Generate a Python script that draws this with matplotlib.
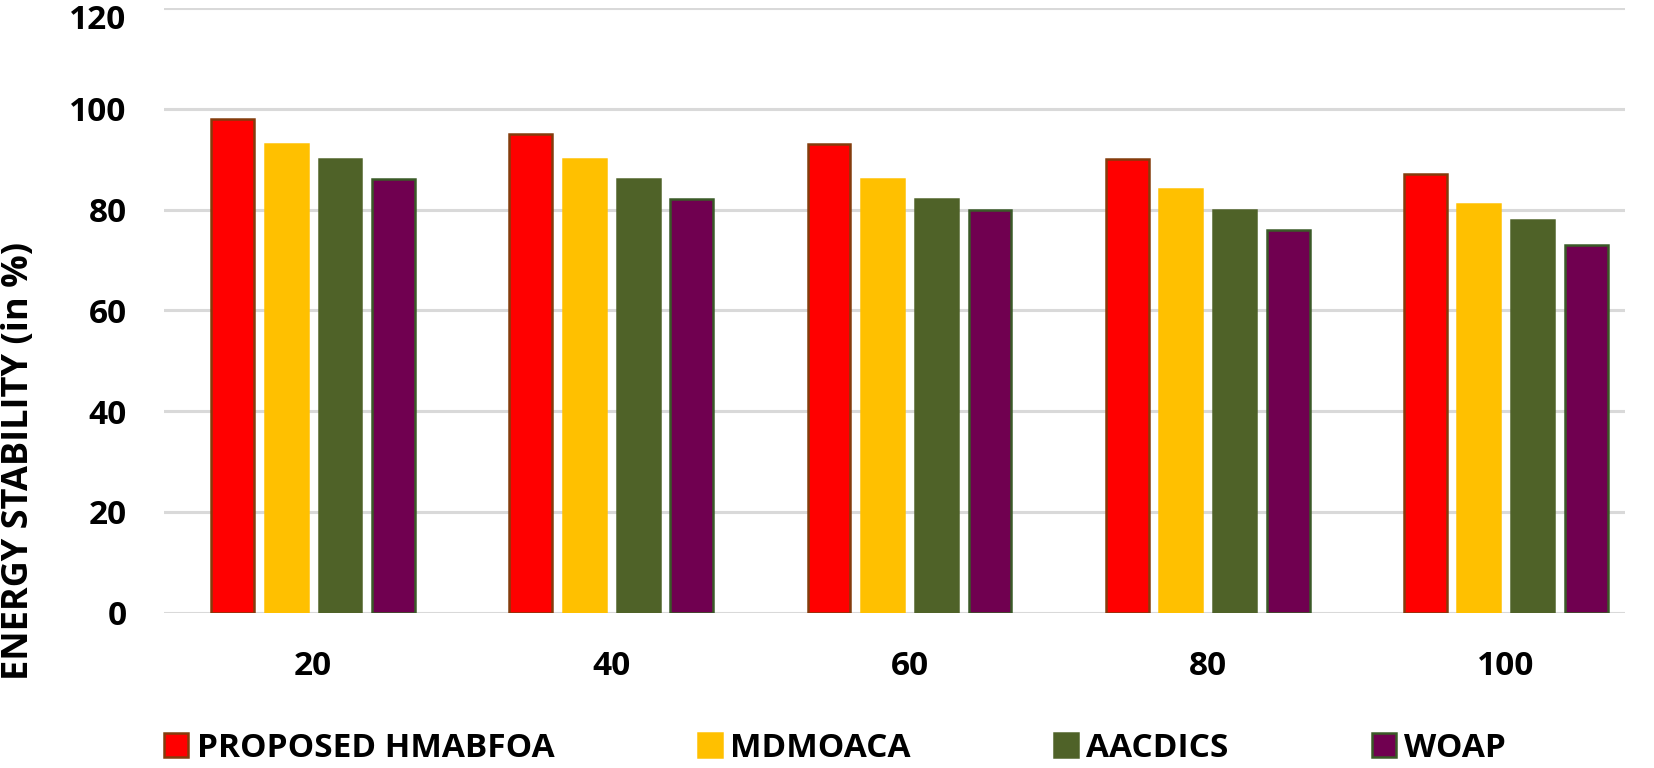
import matplotlib
matplotlib.use("Agg")
import matplotlib.pyplot as plt
import matplotlib.transforms as mtransforms
import numpy as np

plt.rcParams['font.family'] = ['Open Sans', 'DejaVu Sans']

# data
nodes = ['20', '40', '60', '80', '100']
series = ['PROPOSED HMABFOA', 'MDMOACA', 'AACDICS', 'WOAP']
hmabfoa = [98, 95, 93, 90, 87]
mdmoaca = [93, 90, 86, 84, 81]
aacdics = [90, 86, 82, 80, 78]
woap = [86, 82, 80, 76, 73]

colors = ['#FF0000', '#FFC000', '#4F6228', '#700050']
edges = ['#843C0C', '#FFC000', '#4F6228', '#3A5A28']

fig = plt.figure(figsize=(16.54, 7.68), dpi=100)
ax = fig.add_axes([0.0992, 0.2022, 0.8833, 0.7875])

x = np.arange(len(nodes))
pitch = 0.18
width = 0.144
bars = []
for i, vals in enumerate([hmabfoa, mdmoaca, aacdics, woap]):
    b = ax.bar(x + (i - 1.5) * pitch, vals, width, color=colors[i],
               edgecolor=edges[i], linewidth=1.8, label=series[i], zorder=3)
    bars.append(b)

ax.set_ylim(0, 120)
ax.set_yticks(range(0, 121, 20))
ax.set_xlim(-0.5, 4.4)
ax.set_xticks(x)
ax.set_xticklabels(nodes)
ax.grid(axis='y', color='#D9D9D9', linewidth=2.2, zorder=0)
ax.set_axisbelow(True)
for s in ax.spines.values():
    s.set_visible(False)
ax.tick_params(axis='both', length=0, labelsize=24)
ax.tick_params(axis='x', pad=27)
ax.tick_params(axis='y', pad=27)
for lab in ax.get_xticklabels() + ax.get_yticklabels():
    lab.set_fontweight('bold')

# top label sits a bit lower so it is not cut at the edge
top = ax.get_yticklabels()[-1]
top.set_transform(top.get_transform() +
                  mtransforms.ScaledTranslation(0, -6 / 72, fig.dpi_scale_trans))

fig.text(0.0115, 0.40, 'ENERGY STABILITY (in %)', rotation=90, ha='center',
         va='center', fontsize=26, fontweight='bold')

fig.legend(handles=bars, labels=series, loc='center', ncol=4,
           bbox_to_anchor=(0.505, 0.026), frameon=False,
           prop={'size': 24, 'weight': 'bold'},
           handlelength=0.72, handleheight=0.72, handletextpad=0.25,
           columnspacing=4.3, borderpad=0)

fig.savefig('out.png', dpi=100)
